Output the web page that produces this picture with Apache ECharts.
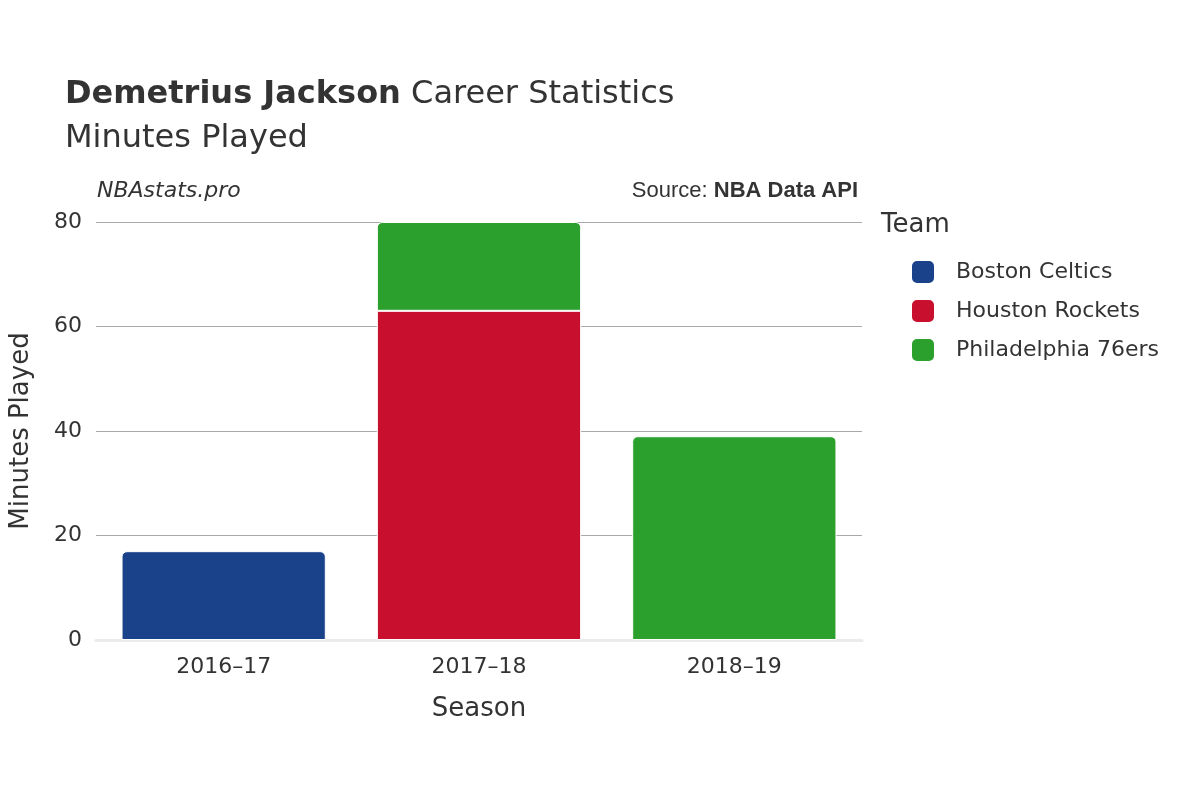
<!DOCTYPE html>
<html>
<head>
<meta charset="utf-8">
<title>Minutes Played</title>
<script src="https://cdn.jsdelivr.net/npm/echarts@6/dist/echarts.min.js"></script>
</head>
<body style="margin:0">
<div id="main" style="width:1200px;height:800px"></div>
<script>
var seasons = ['2016–17', '2017–18', '2018–19'];
var boston = [17, null, null];
var houston = [null, 63, null];
var philly = [null, 17, 39];
var yTicks = [0, 20, 40, 60, 80];

var chart = echarts.init(document.getElementById('main'));
var font = 'DejaVu Sans';

function bar(name, data, color, radius) {
  return {
    name: name, type: 'bar', stack: 'total', data: data,
    barCategoryGap: '20%',
    itemStyle: { color: color, borderRadius: radius, borderColor: '#fff', borderWidth: 1 }
  };
}

chart.setOption({
  textStyle: { fontFamily: font },
  animation: false,
  title: [
    { text: '{b|Demetrius Jackson} Career Statistics\nMinutes Played', left: 60, top: 68,
      textStyle: { fontSize: 32, color: '#333', fontWeight: 'normal', lineHeight: 44,
        rich: { b: { fontSize: 32, fontWeight: 'bold', color: '#333' } } } }
  ],
  graphic: [
    { type: 'text', left: 97, top: 180, style: { text: 'NBAstats.pro', font: 'italic 22px "DejaVu Sans"', fill: '#333' } },
    { type: 'text', right: 342, top: 180, style: { text: '{a|Source: }{b|NBA Data API}', font: '22px "DejaVu Sans"', fill: '#333',
      rich: { a: { fontSize: 22, fill: '#333' }, b: { fontSize: 22, fontWeight: 'bold', fill: '#333' } } } },
    { type: 'text', left: 881, top: 212, style: { text: 'Team', font: '26px "DejaVu Sans"', fill: '#333' } }
  ],
  legend: {
    orient: 'vertical', left: 905, top: 254, itemGap: 13,
    itemWidth: 24, itemHeight: 24, icon: 'roundRect',
    textStyle: { fontSize: 22, color: '#333', padding: [0, 0, 0, 16] },
    data: ['Boston Celtics', 'Houston Rockets', 'Philadelphia 76ers']
  },
  grid: { left: 93, right: 338, top: 222, bottom: 160 },
  xAxis: {
    type: 'category', data: seasons,
    name: 'Season', nameLocation: 'middle', nameGap: 56,
    nameTextStyle: { fontSize: 26, color: '#333' },
    axisLine: { lineStyle: { color: '#ebebeb', width: 3 } },
    axisTick: { show: false },
    axisLabel: { fontSize: 22, color: '#333', margin: 16 }
  },
  yAxis: {
    type: 'value', min: 0, max: 80, interval: 20,
    name: 'Minutes Played', nameLocation: 'middle', nameGap: 62,
    nameTextStyle: { fontSize: 26, color: '#333' },
    axisLabel: { fontSize: 22, color: '#333', margin: 14,
      formatter: function (v) { return yTicks.indexOf(v) >= 0 ? String(v) : ''; } },
    splitLine: { lineStyle: { color: '#aaa', width: 1 } }
  },
  series: [
    bar('Boston Celtics', boston, '#1a428a', [5, 5, 0, 0]),
    bar('Houston Rockets', houston, '#c8102e', 0),
    bar('Philadelphia 76ers', philly, '#2ca02c', [5, 5, 0, 0])
  ]
});
</script>
</body>
</html>
